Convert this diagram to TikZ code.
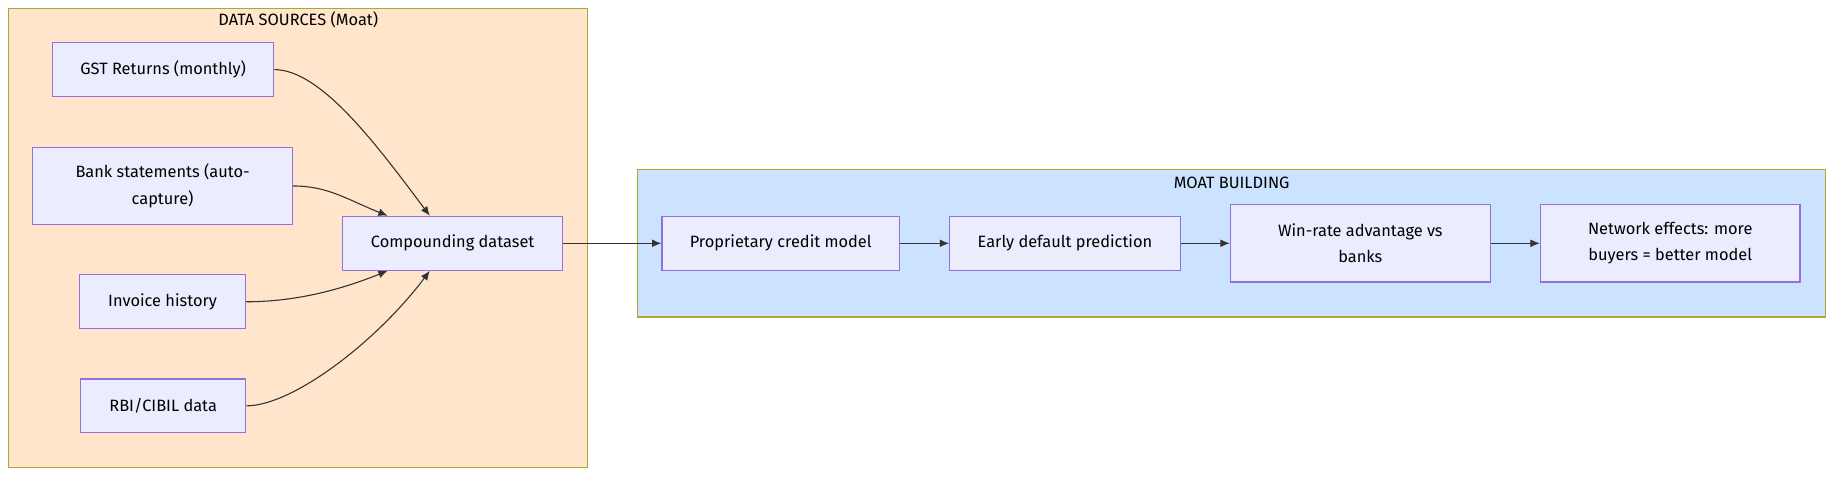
\documentclass[tikz,border=0pt]{standalone}
\usepackage{fontspec}
\setmainfont{Fira Sans}
\usetikzlibrary{calc,arrows.meta}
\definecolor{nodefill}{HTML}{ECECFF}
\definecolor{nodeline}{HTML}{9370DB}
\definecolor{srcfill}{HTML}{FFE5CC}
\definecolor{moatfill}{HTML}{CCE3FF}
\definecolor{clusterline}{HTML}{AAAA33}
\definecolor{edgeline}{HTML}{333333}
\tikzset{
  box/.style={draw=nodeline, fill=nodefill, line width=0.8pt, align=center,
    inner sep=0pt, font=\fontsize{10.5}{17}\selectfont},
  cluster/.style={draw=clusterline, line width=0.8pt},
  link/.style={draw=edgeline, line width=0.7pt, -{Latex[length=6pt,width=5pt]}}
}
\begin{document}
\begin{tikzpicture}[x=0.75pt, y=-0.75pt]
  \useasboundingbox (0,0) rectangle (1568,407);

  % Clusters
  \draw[cluster, fill=srcfill] (7,7) rectangle (502,400);
  \node[font=\fontsize{10.5}{12}\selectfont] (srctitle) at (255,17) {DATA SOURCES (Moat)};
  \draw[cluster, fill=moatfill] (545,145) rectangle (1561,271);
  \node[font=\fontsize{10.5}{12}\selectfont] (moattitle) at (1053,156) {MOAT BUILDING};

  % Data sources
  \node[box, minimum width=189*0.75pt, minimum height=46*0.75pt] (gst) at (139.5,59.5) {GST Returns (monthly)};
  \node[box, minimum width=222*0.75pt, minimum height=66*0.75pt] (bank) at (139,159) {Bank statements (auto-\\capture)};
  \node[box, minimum width=142*0.75pt, minimum height=46*0.75pt] (invoice) at (139,258) {Invoice history};
  \node[box, minimum width=141*0.75pt, minimum height=46*0.75pt] (rbi) at (139.5,347) {RBI/CIBIL data};
  \node[box, minimum width=188*0.75pt, minimum height=46*0.75pt] (comp) at (387,208) {Compounding dataset};

  % Moat building
  \node[box, minimum width=203*0.75pt, minimum height=46*0.75pt] (model) at (667.5,208) {Proprietary credit model};
  \node[box, minimum width=197*0.75pt, minimum height=46*0.75pt] (early) at (910.5,208) {Early default prediction};
  \node[box, minimum width=222*0.75pt, minimum height=66*0.75pt] (win) at (1163,208) {Win-rate advantage vs\\banks};
  \node[box, minimum width=222*0.75pt, minimum height=66*0.75pt] (network) at (1428,208) {Network effects: more\\buyers = better model};

  % Edges
  \coordinate (c1) at ($(comp.north west)+(75,0)$);
  \coordinate (c2) at ($(comp.north west)+(39,0)$);
  \coordinate (c3) at ($(comp.south west)+(39,0)$);
  \coordinate (c4) at ($(comp.south west)+(75,0)$);
  \draw[link] (gst.east) .. controls +(40,0) and +(-45,-60) .. (c1);
  \draw[link] (bank.east) .. controls +(30,0) and +(-35,-14) .. (c2);
  \draw[link] (invoice.east) .. controls +(50,0) and +(-30,12) .. (c3);
  \draw[link] (rbi.east) .. controls +(40,0) and +(-45,60) .. (c4);
  \draw[link] (comp) -- (model);
  \draw[link] (model) -- (early);
  \draw[link] (early) -- (win);
  \draw[link] (win) -- (network);
\end{tikzpicture}
\end{document}
